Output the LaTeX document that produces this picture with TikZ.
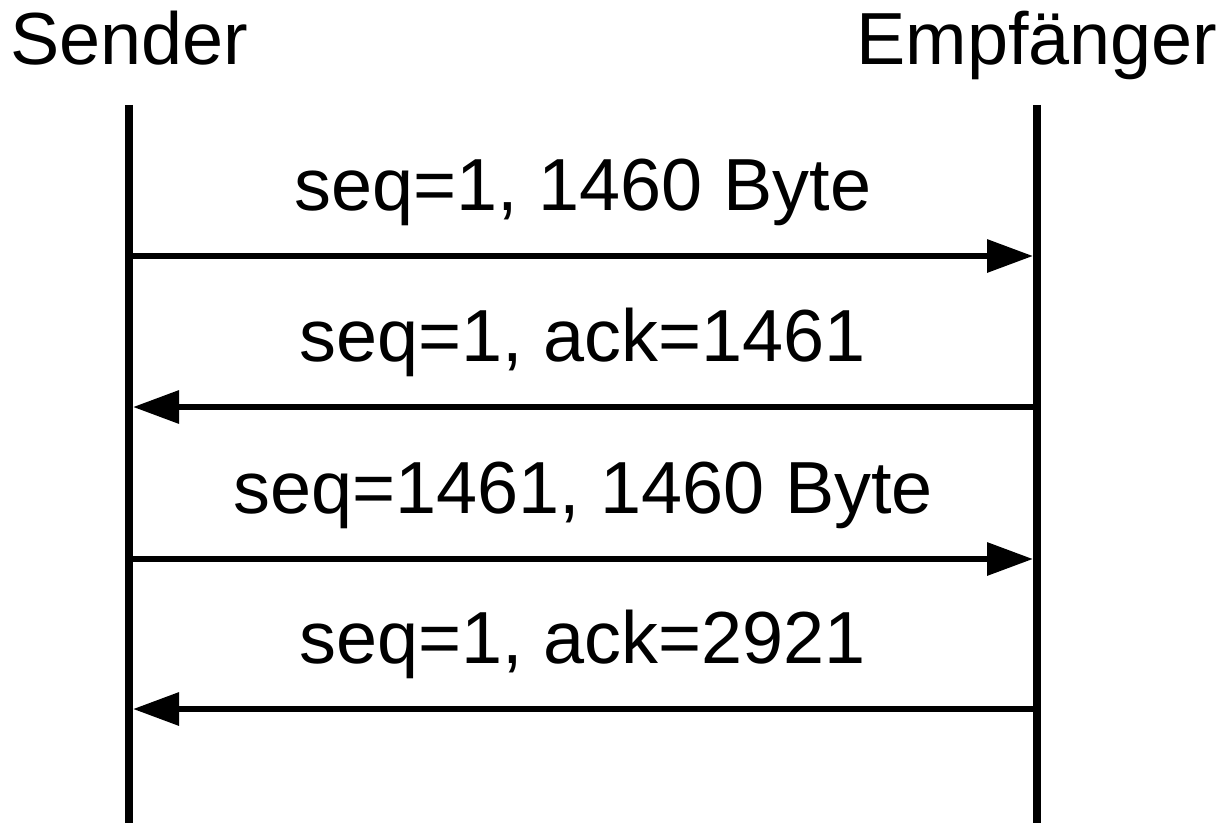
\documentclass[tikz,border=0pt]{standalone}
\usepackage{fontspec}
\setmainfont{Liberation Sans}
\usetikzlibrary{arrows.meta, positioning}

\begin{document}
\begin{tikzpicture}[>={Triangle[length=4.6mm,width=3.2mm]},
    font=\fontsize{21}{25}\selectfont,
    party/.style={anchor=base, inner sep=0pt},
    lifeline/.style={line width=2.1pt},
    msg/.style={->, line width=1.8pt, shorten >=0.4mm},
    lbl/.style={anchor=base, inner sep=0pt, yshift=4.6mm}]
        \useasboundingbox (0,0) rectangle (12.31,-8.23);

        \node[party] (sender) at (1.29,-0.65) {Sender};
        \node[party] (empf) at (10.37,-0.65) {Empfänger};

        \coordinate (sTop) at (1.29,-1.05);
        \coordinate (sBot) at (1.29,-8.23);
        \coordinate (eTop) at (10.37,-1.05);
        \coordinate (eBot) at (10.37,-8.23);
        \foreach \y [count=\i] in {2.56,4.07,5.59,7.09} {
            \coordinate (s\i) at (1.29,-\y);
            \coordinate (e\i) at (10.37,-\y);
        }

        \draw[lifeline] (sTop) -- (sBot);
        \draw[lifeline] (eTop) -- (eBot);

        \path[msg]
        (s1) edge node[lbl] {seq=1, 1460 Byte} (e1)
        (e2) edge node[lbl] {seq=1, ack=1461} (s2)
        (s3) edge node[lbl] {seq=1461, 1460 Byte} (e3)
        (e4) edge node[lbl] {seq=1, ack=2921} (s4)
        ;
    \end{tikzpicture}
\end{document}
